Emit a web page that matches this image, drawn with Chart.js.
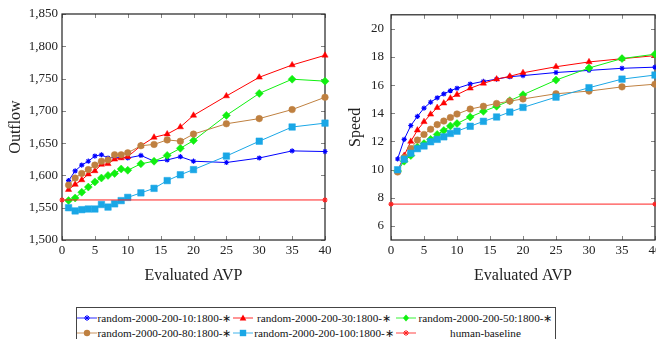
<!DOCTYPE html>
<html>
<head>
<meta charset="utf-8">
<script src="https://cdn.jsdelivr.net/npm/chart.js@4.4.0/dist/chart.umd.min.js"></script>
<style>
html, body { margin: 0; padding: 0; width: 656px; height: 339px; overflow: hidden; background: #fff; }
#left { position: absolute; left: 0; top: 0; }
#right { position: absolute; left: 329px; top: 0; }
#legend { position: absolute; left: 76px; top: 307px; width: 480px; height: 40px; border: 1px solid #444; box-sizing: border-box;
  font-family: 'Liberation Serif', serif; font-size: 11.2px; color: #111; }
.item { position: absolute; height: 14px; display: flex; align-items: center; }
.item svg { flex: none; }
.item span { flex: 1; text-align: center; white-space: nowrap; }
</style>
</head>
<body>
<canvas id="left" width="345" height="292"></canvas>
<canvas id="right" width="345" height="292"></canvas>
<div id="legend"></div>
<script>
// данные
const xValues = [1, 2, 3, 4, 5, 6, 7, 8, 9, 10, 12, 14, 16, 18, 20, 25, 30, 35, 40]
const baselineX = [0, 40]

const seriesNames = [
    'random-2000-200-10:1800-∗',
    'random-2000-200-30:1800-∗',
    'random-2000-200-50:1800-∗',
    'random-2000-200-80:1800-∗',
    'random-2000-200-100:1800-∗',
    'human-baseline'
]

const outflow10  = [1592, 1607, 1616, 1622, 1630, 1632, 1627, 1628, 1628, 1627, 1631, 1622, 1624, 1629, 1622, 1620, 1627, 1638, 1637]
const outflow30  = [1578, 1586, 1593, 1602, 1607, 1617, 1618, 1625, 1627, 1629, 1646, 1659, 1664, 1675, 1693, 1723, 1752, 1771, 1786]
const outflow50  = [1561, 1565, 1574, 1582, 1590, 1596, 1600, 1603, 1610, 1608, 1618, 1622, 1631, 1642, 1654, 1693, 1727, 1749, 1746]
const outflow80  = [1585, 1596, 1603, 1609, 1616, 1622, 1624, 1632, 1632, 1635, 1646, 1648, 1655, 1653, 1664, 1680, 1688, 1702, 1721]
const outflow100 = [1550, 1545, 1547, 1548, 1548, 1555, 1551, 1556, 1561, 1566, 1573, 1580, 1592, 1601, 1609, 1630, 1653, 1675, 1681]
const outflowBaseline = [1562, 1562]

const speed10  = [10.76, 12.15, 13.13, 13.78, 14.37, 14.79, 15.1, 15.38, 15.61, 15.78, 16.08, 16.27, 16.43, 16.6, 16.68, 16.9, 17.05, 17.2, 17.28]
const speed30  = [9.9, 11.0, 12.0, 12.8, 13.4, 13.93, 14.4, 14.72, 15.07, 15.33, 15.78, 16.13, 16.43, 16.63, 16.88, 17.31, 17.65, 17.88, 18.1]
const speed50  = [9.9, 10.6, 11.0, 11.6, 11.85, 12.15, 12.5, 12.78, 13.1, 13.27, 13.74, 14.14, 14.5, 14.9, 15.32, 16.36, 17.22, 17.89, 18.2]
const speed80  = [9.83, 10.85, 11.5, 12.1, 12.5, 12.87, 13.2, 13.45, 13.7, 13.95, 14.3, 14.5, 14.7, 14.87, 15.02, 15.39, 15.58, 15.88, 16.07]
const speed100 = [9.99, 10.74, 11.16, 11.49, 11.68, 11.98, 12.15, 12.33, 12.57, 12.73, 13.08, 13.43, 13.74, 14.09, 14.42, 15.15, 15.82, 16.43, 16.72]
const speedBaseline = [7.55, 7.55]

const outflowTicks = [1500, 1550, 1600, 1650, 1700, 1750, 1800, 1850]
const speedTicks = [6, 8, 10, 12, 14, 16, 18, 20]
const xTicks = [0, 5, 10, 15, 20, 25, 30, 35, 40]

// стили серий
const styles = [
    { color: '#0000ff', point: 'star', r: 2.6 },
    { color: '#ff0000', point: 'triangle', r: 3.6 },
    { color: '#10f010', point: 'rectRot', r: 4 },
    { color: '#bf8040', point: 'circle', r: 3.3 },
    { color: '#1aa7e6', point: 'rect', r: 4.6 },
    { color: '#ff2020', point: 'star', r: 2.6 }
]

const serif = "'Liberation Serif', 'DejaVu Serif', serif"

// рамка и засечки как в pgfplots
const boxPlugin = {
    id: 'box',
    beforeDatasetsDraw(chart) {
        const { ctx, chartArea: a, scales } = chart
        ctx.save()
        ctx.strokeStyle = '#666'
        ctx.lineWidth = 0.8
        ctx.beginPath()
        scales.x.ticks.forEach(t => {
            const px = Math.round(scales.x.getPixelForValue(t.value)) + 0.5
            ctx.moveTo(px, a.bottom); ctx.lineTo(px, a.bottom - 4)
            ctx.moveTo(px, a.top); ctx.lineTo(px, a.top + 4)
        })
        scales.y.ticks.forEach(t => {
            const py = Math.round(scales.y.getPixelForValue(t.value)) + 0.5
            ctx.moveTo(a.left, py); ctx.lineTo(a.left + 4, py)
            ctx.moveTo(a.right, py); ctx.lineTo(a.right - 4, py)
        })
        ctx.stroke()
        ctx.strokeStyle = '#222'
        ctx.lineWidth = 1.2
        ctx.strokeRect(a.left, a.top, a.right - a.left, a.bottom - a.top)
        ctx.restore()
    }
}

function makeDatasets(series, baseline) {
    const all = series.map((vals, i) => ({ xs: xValues, ys: vals }))
    all.push({ xs: baselineX, ys: baseline })
    return all.map((s, i) => ({
        label: seriesNames[i],
        data: s.ys.map((v, j) => ({ x: s.xs[j], y: v })),
        borderColor: styles[i].color,
        backgroundColor: styles[i].color,
        pointStyle: styles[i].point,
        pointRadius: styles[i].r,
        pointBorderWidth: styles[i].point === 'star' ? 1.1 : 0.5,
        borderWidth: 1,
        tension: 0,
        clip: false,
        order: 10 - i
    }))
}

function makeChart(id, title, datasets, yMin, yMax, yTicks, tickPad, titlePad, fmt) {
    return new Chart(document.getElementById(id), {
        type: 'line',
        data: { datasets: datasets },
        options: {
            responsive: false,
            animation: false,
            layout: { padding: { left: 0, right: id === 'left' ? 20 : 19, top: 14, bottom: 0 } },
            plugins: { legend: { display: false }, tooltip: { enabled: false } },
            scales: {
                x: {
                    type: 'linear', min: 0, max: 40,
                    afterBuildTicks: s => { s.ticks = xTicks.map(v => ({ value: v })) },
                    afterFit: s => { s.height = 52 },
                    grid: { display: false, drawTicks: false },
                    border: { display: false },
                    ticks: { padding: 3, color: '#222', font: { family: serif, size: 13 }, maxRotation: 0, autoSkip: false },
                    title: { display: true, text: 'Evaluated AVP', color: '#222', font: { family: serif, size: 16 }, padding: { top: 0, bottom: 7 } }
                },
                y: {
                    type: 'linear', min: yMin, max: yMax,
                    afterBuildTicks: s => { s.ticks = yTicks.map(v => ({ value: v })) },
                    afterFit: s => { s.width = 62 },
                    grid: { display: false, drawTicks: false },
                    border: { display: false },
                    ticks: { padding: tickPad, color: '#222', font: { family: serif, size: 13 }, callback: fmt },
                    title: { display: true, text: title, color: '#222', font: { family: serif, size: 16 }, padding: { top: titlePad, bottom: 0 } }
                }
            }
        },
        plugins: [boxPlugin]
    })
}

makeChart('left', 'Outflow',
    makeDatasets([outflow10, outflow30, outflow50, outflow80, outflow100], outflowBaseline),
    1500, 1850, outflowTicks, 4, 6, v => v.toLocaleString('en-US'))

makeChart('right', 'Speed',
    makeDatasets([speed10, speed30, speed50, speed80, speed100], speedBaseline),
    5, 21, speedTicks, 7, 17, v => String(v))

// легенда в три колонки
function markerSvg(st) {
    const c = st.color
    let m = ''
    if (st.point === 'star') {
        m = `<g stroke="${c}" stroke-width="1"><line x1="7" y1="5" x2="13" y2="5"/><line x1="10" y1="2" x2="10" y2="8"/><line x1="8" y1="3" x2="12" y2="7"/><line x1="12" y1="3" x2="8" y2="7"/></g>`
    } else if (st.point === 'triangle') {
        m = `<polygon points="10,1.5 13.3,7.5 6.7,7.5" fill="${c}"/>`
    } else if (st.point === 'rectRot') {
        m = `<polygon points="10,1.5 13,5 10,8.5 7,5" fill="${c}"/>`
    } else if (st.point === 'circle') {
        m = `<circle cx="10" cy="5" r="3.2" fill="${c}"/>`
    } else {
        m = `<rect x="6.8" y="1.8" width="6.4" height="6.4" fill="${c}"/>`
    }
    return `<svg width="20" height="10"><line x1="0" y1="5" x2="20" y2="5" stroke="${c}" stroke-opacity="0.6" stroke-width="1.4"/>${m}</svg>`
}

const legend = document.getElementById('legend')
const colLeft = [0, 156, 319]
const colWidth = [155, 162, 159]
const rowTop = [3, 18]
seriesNames.forEach((name, i) => {
    const col = i % 3
    const row = Math.floor(i / 3)
    const el = document.createElement('div')
    el.className = 'item'
    el.style.left = colLeft[col] + 'px'
    el.style.top = rowTop[row] + 'px'
    el.style.width = colWidth[col] + 'px'
    el.innerHTML = markerSvg(styles[i]) + '<span>' + name + '</span>'
    legend.appendChild(el)
})
</script>
</body>
</html>
